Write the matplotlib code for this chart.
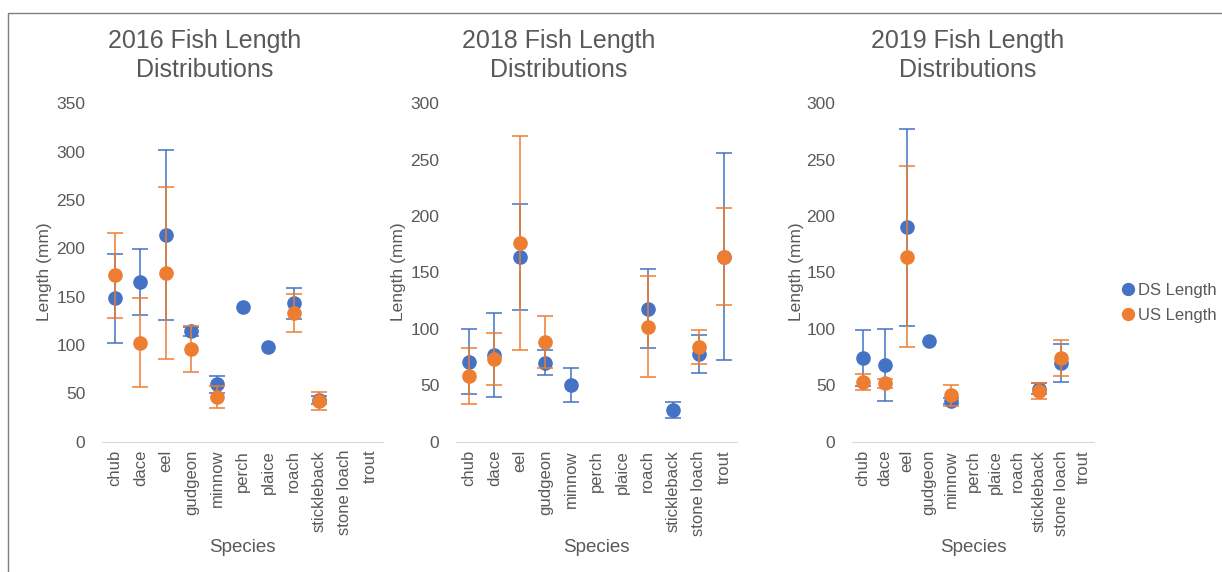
import numpy as np
import matplotlib
matplotlib.use("Agg")
import matplotlib.pyplot as plt
from matplotlib.patches import Rectangle

plt.rcParams['font.family'] = ['Liberation Sans', 'DejaVu Sans']

nan = np.nan
species = ["chub", "dace", "eel", "gudgeon", "minnow", "perch", "plaice",
           "roach", "stickleback", "stone loach", "trout"]

# 2016
ds16 = [148, 165, 214, 114, 59, 139, 98, 143, 43, nan, nan]
ds16_err = [46, 34, 88, 5, 9, nan, nan, 16, 4, nan, nan]
us16 = [172, 102, 174, 96, 46, nan, nan, 133, 42, nan, nan]
us16_err = [44, 46, 89, 24, 11, nan, nan, 20, 9, nan, nan]

# 2018
ds18 = [71, 77, 164, 70, 50, nan, nan, 118, 28, 78, 164]
ds18_err = [29, 37, 47, 11, 15, nan, nan, 35, 7, 17, 92]
us18 = [58, 73, 176, 88, nan, nan, nan, 102, nan, 84, 164]
us18_err = [25, 23, 95, 23, nan, nan, nan, 45, nan, 15, 43]

# 2019
ds19 = [74, 68, 190, 89, 36, nan, nan, nan, 47, 70, nan]
ds19_err = [25, 32, 87, nan, 3, nan, nan, nan, 5, 17, nan]
us19 = [53, 52, 164, nan, 41, nan, nan, nan, 45, 74, nan]
us19_err = [7, 4, 80, nan, 9, nan, nan, nan, 7, 16, nan]

panels = [
    ("2016 Fish Length\nDistributions", ds16, ds16_err, us16, us16_err, 350),
    ("2018 Fish Length\nDistributions", ds18, ds18_err, us18, us18_err, 300),
    ("2019 Fish Length\nDistributions", ds19, ds19_err, us19, us19_err, 300),
]

W, H = 1222, 572
fig = plt.figure(figsize=(W / 100, H / 100), dpi=100)

# axes boxes in pixels: left, right, top(max), bottom(0)
boxes = [(102, 383, 103.3, 441.5), (456, 737, 103.3, 441.7), (852, 1094, 103.3, 441.7)]
title_x = [205, 559, 968]
ylab_x = [45, 398, 797]

blue = "#4472C4"
orange = "#ED7D31"
grey = "#595959"

x = np.arange(len(species))
handles = None
for (title, ds, dse, us, use, ymax), (l, r, t, b), tx, yx in zip(panels, boxes, title_x, ylab_x):
    ax = fig.add_axes([l / W, 1 - b / H, (r - l) / W, (b - t) / H])
    h1 = ax.errorbar(x, ds, yerr=dse, fmt="o", color=blue, ms=9.5, elinewidth=1.1,
                     capsize=6, capthick=1.1, label="DS Length", zorder=2)
    h2 = ax.errorbar(x, us, yerr=use, fmt="o", color=orange, ms=9.5, elinewidth=1.1,
                     capsize=6, capthick=1.1, label="US Length", zorder=3)
    handles = [h1, h2]
    ax.set_xlim(-0.5, len(species) - 0.5)
    ax.set_ylim(0, ymax)
    ax.set_yticks(np.arange(0, ymax + 1, 50))
    ax.set_xticks(x)
    ax.set_xticklabels(species, rotation=90)
    ax.tick_params(axis="both", length=0, colors=grey, labelsize=12.5)
    ax.tick_params(axis="x", labelsize=12)
    ax.tick_params(axis="y", pad=12)
    ax.tick_params(axis="x", pad=6)
    for s in ["top", "right", "left"]:
        ax.spines[s].set_visible(False)
    ax.spines["bottom"].set_color("#D9D9D9")
    fig.text(tx / W, 1 - 55.5 / H, title, ha="center", va="center", fontsize=18,
             color=grey, linespacing=1.25)
    fig.text(yx / W, 1 - 272 / H, "Length (mm)", rotation=90, ha="center",
             va="center", fontsize=12.5, color=grey)
    fig.text(((l + r) / 2) / W, 1 - 548 / H, "Species", ha="center", va="center",
             fontsize=13.5, color=grey)

fig.legend(handles=[h[0] for h in handles], labels=["DS Length", "US Length"],
           loc="center left", bbox_to_anchor=(1113 / W, 1 - 303 / H), frameon=False,
           handletextpad=0.1, labelcolor=grey, fontsize=12, markerscale=0.9,
           labelspacing=0.6, handlelength=1.0, borderaxespad=0)

fig.patches.append(Rectangle((8 / W, -0.1), 1.2, 1 - 12.5 / H + 0.1,
                             transform=fig.transFigure, fill=False,
                             edgecolor="#7F7F7F", linewidth=1.0))

fig.savefig("out.png", dpi=100)
